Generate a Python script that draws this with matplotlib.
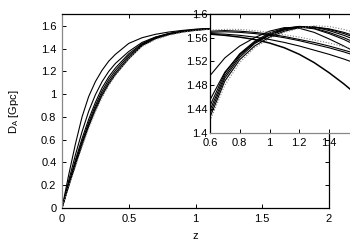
import numpy as np
import matplotlib
matplotlib.use("Agg")
import matplotlib.pyplot as plt

plt.rcParams['font.family'] = ['Liberation Sans', 'DejaVu Sans']
plt.rcParams['mathtext.default'] = 'regular'

# redshift grid and D_A curves [Gpc]
z = [0, 0.05, 0.1, 0.15, 0.2, 0.25, 0.3, 0.35, 0.4, 0.5, 0.6, 0.7, 0.8, 0.9, 1.0, 1.1, 1.2, 1.3, 1.4, 1.5, 1.6, 1.8, 2.0]
da_a = [0, 0.29, 0.56, 0.80, 0.98, 1.11, 1.21, 1.29, 1.35, 1.446, 1.496, 1.526, 1.546, 1.560, 1.571, 1.577, 1.576, 1.569, 1.558, 1.546, 1.533, 1.505, 1.475]
da_b = [0, 0.24, 0.465, 0.67, 0.85, 0.995, 1.11, 1.20, 1.27, 1.375, 1.455, 1.502, 1.532, 1.552, 1.565, 1.574, 1.578, 1.575, 1.567, 1.557, 1.545, 1.519, 1.491]
da_c = [0, 0.215, 0.42, 0.61, 0.78, 0.928, 1.055, 1.152, 1.23, 1.355, 1.445, 1.500, 1.533, 1.554, 1.568, 1.576, 1.579, 1.576, 1.569, 1.560, 1.549, 1.524, 1.497]
da_d = [0, 0.205, 0.40, 0.585, 0.752, 0.90, 1.028, 1.128, 1.208, 1.340, 1.438, 1.496, 1.530, 1.552, 1.566, 1.575, 1.579, 1.578, 1.572, 1.564, 1.554, 1.531, 1.506]
da_e = [0, 0.198, 0.386, 0.567, 0.732, 0.878, 1.005, 1.106, 1.188, 1.324, 1.432, 1.492, 1.527, 1.550, 1.564, 1.573, 1.578, 1.578, 1.574, 1.567, 1.558, 1.535, 1.510]
da_f = [0, 0.192, 0.374, 0.552, 0.715, 0.86, 0.987, 1.088, 1.172, 1.310, 1.426, 1.487, 1.523, 1.546, 1.561, 1.571, 1.577, 1.578, 1.575, 1.569, 1.561, 1.540, 1.516]
da_dot = [0, 0.186, 0.362, 0.538, 0.70, 0.845, 0.97, 1.074, 1.163, 1.312, 1.420, 1.480, 1.518, 1.543, 1.559, 1.569, 1.576, 1.580, 1.579, 1.574, 1.567, 1.549, 1.527]

# extra flat curves only seen in the inset
zi = [0.6, 0.7, 0.8, 0.9, 1.0, 1.1, 1.2, 1.3, 1.4, 1.5, 1.6]
flat_dot = [1.573, 1.574, 1.574, 1.572, 1.569, 1.565, 1.561, 1.556, 1.551, 1.545, 1.538]
flat_1 = [1.571, 1.572, 1.571, 1.569, 1.566, 1.562, 1.557, 1.552, 1.546, 1.539, 1.532]
flat_2 = [1.569, 1.570, 1.569, 1.567, 1.564, 1.560, 1.555, 1.549, 1.543, 1.536, 1.528]
flat_3 = [1.567, 1.566, 1.564, 1.561, 1.557, 1.552, 1.546, 1.539, 1.532, 1.524, 1.515]
flat_4 = [1.566, 1.564, 1.561, 1.557, 1.551, 1.543, 1.532, 1.518, 1.501, 1.482, 1.461]

xticks = [0, 0.5, 1, 1.5, 2]
xticklabels = ['0', '0.5', '1', '1.5', '2']
yticks = [0, 0.2, 0.4, 0.6, 0.8, 1.0, 1.2, 1.4, 1.6]
yticklabels = ['0', '0.2', '0.4', '0.6', '0.8', '1', '1.2', '1.4', '1.6']
ixticks = [0.6, 0.8, 1.0, 1.2, 1.4]
ixticklabels = ['0.6', '0.8', '1', '1.2', '1.4']
iyticks = [1.4, 1.44, 1.48, 1.52, 1.56, 1.6]
iyticklabels = ['1.4', '1.44', '1.48', '1.52', '1.56', '1.6']

solid = [da_a, da_b, da_c, da_d, da_e, da_f]
flats = [flat_1, flat_2, flat_3]
fs = 8

fig = plt.figure(figsize=(3.5, 2.45), dpi=100)
ax = fig.add_axes([62/350, 1-208/245, (329-62)/350, (208-14.5)/245])

for d in solid:
    ax.plot(z, d, color='black', lw=0.8)
ax.plot(z, da_dot, color='gray', lw=0.8, ls=(0, (1, 1.5)))

ax.set_xlim(0, 2)
ax.set_ylim(0, 1.7)
ax.set_xticks(xticks)
ax.set_xticklabels(xticklabels)
ax.set_yticks(yticks)
ax.set_yticklabels(yticklabels)
ax.tick_params(direction='in', top=True, right=True, length=3, width=0.7, labelsize=fs)
ax.tick_params(axis='x', pad=4)
ax.tick_params(axis='y', pad=4)
for s in ax.spines.values():
    s.set_linewidth(0.9)
ax.spines['left'].set_color('#888888')
ax.set_xlabel('z', fontsize=fs, labelpad=5)
ax.set_ylabel('D$_A$ [Gpc]', fontsize=fs, labelpad=14)

# inset, runs past the right edge of the figure
ins = fig.add_axes([210/350, 1-132.5/245, 148.75/350, (132.5-14)/245])
ins.set_facecolor('white')
for d in solid:
    ins.plot(z, d, color='black', lw=0.8)
ins.plot(z, da_dot, color='gray', lw=0.8, ls=(0, (1, 1.5)))
for d in flats:
    ins.plot(zi, d, color='black', lw=0.8)
ins.plot(zi, flat_4, color='black', lw=1.1)
ins.plot(zi, flat_dot, color='gray', lw=0.8, ls=(0, (1, 1.5)))

ins.set_xlim(0.6, 1.6)
ins.set_ylim(1.4, 1.6)
ins.set_xticks(ixticks)
ins.set_xticklabels(ixticklabels)
ins.set_yticks(iyticks)
ins.set_yticklabels(iyticklabels)
ins.tick_params(direction='in', top=True, right=True, length=3, width=0.7, labelsize=fs)
ins.tick_params(axis='x', pad=4)
ins.tick_params(axis='y', pad=2)
for s in ins.spines.values():
    s.set_linewidth(0.9)
ins.spines['bottom'].set_color('#888888')

fig.savefig('out.png', dpi=100)
